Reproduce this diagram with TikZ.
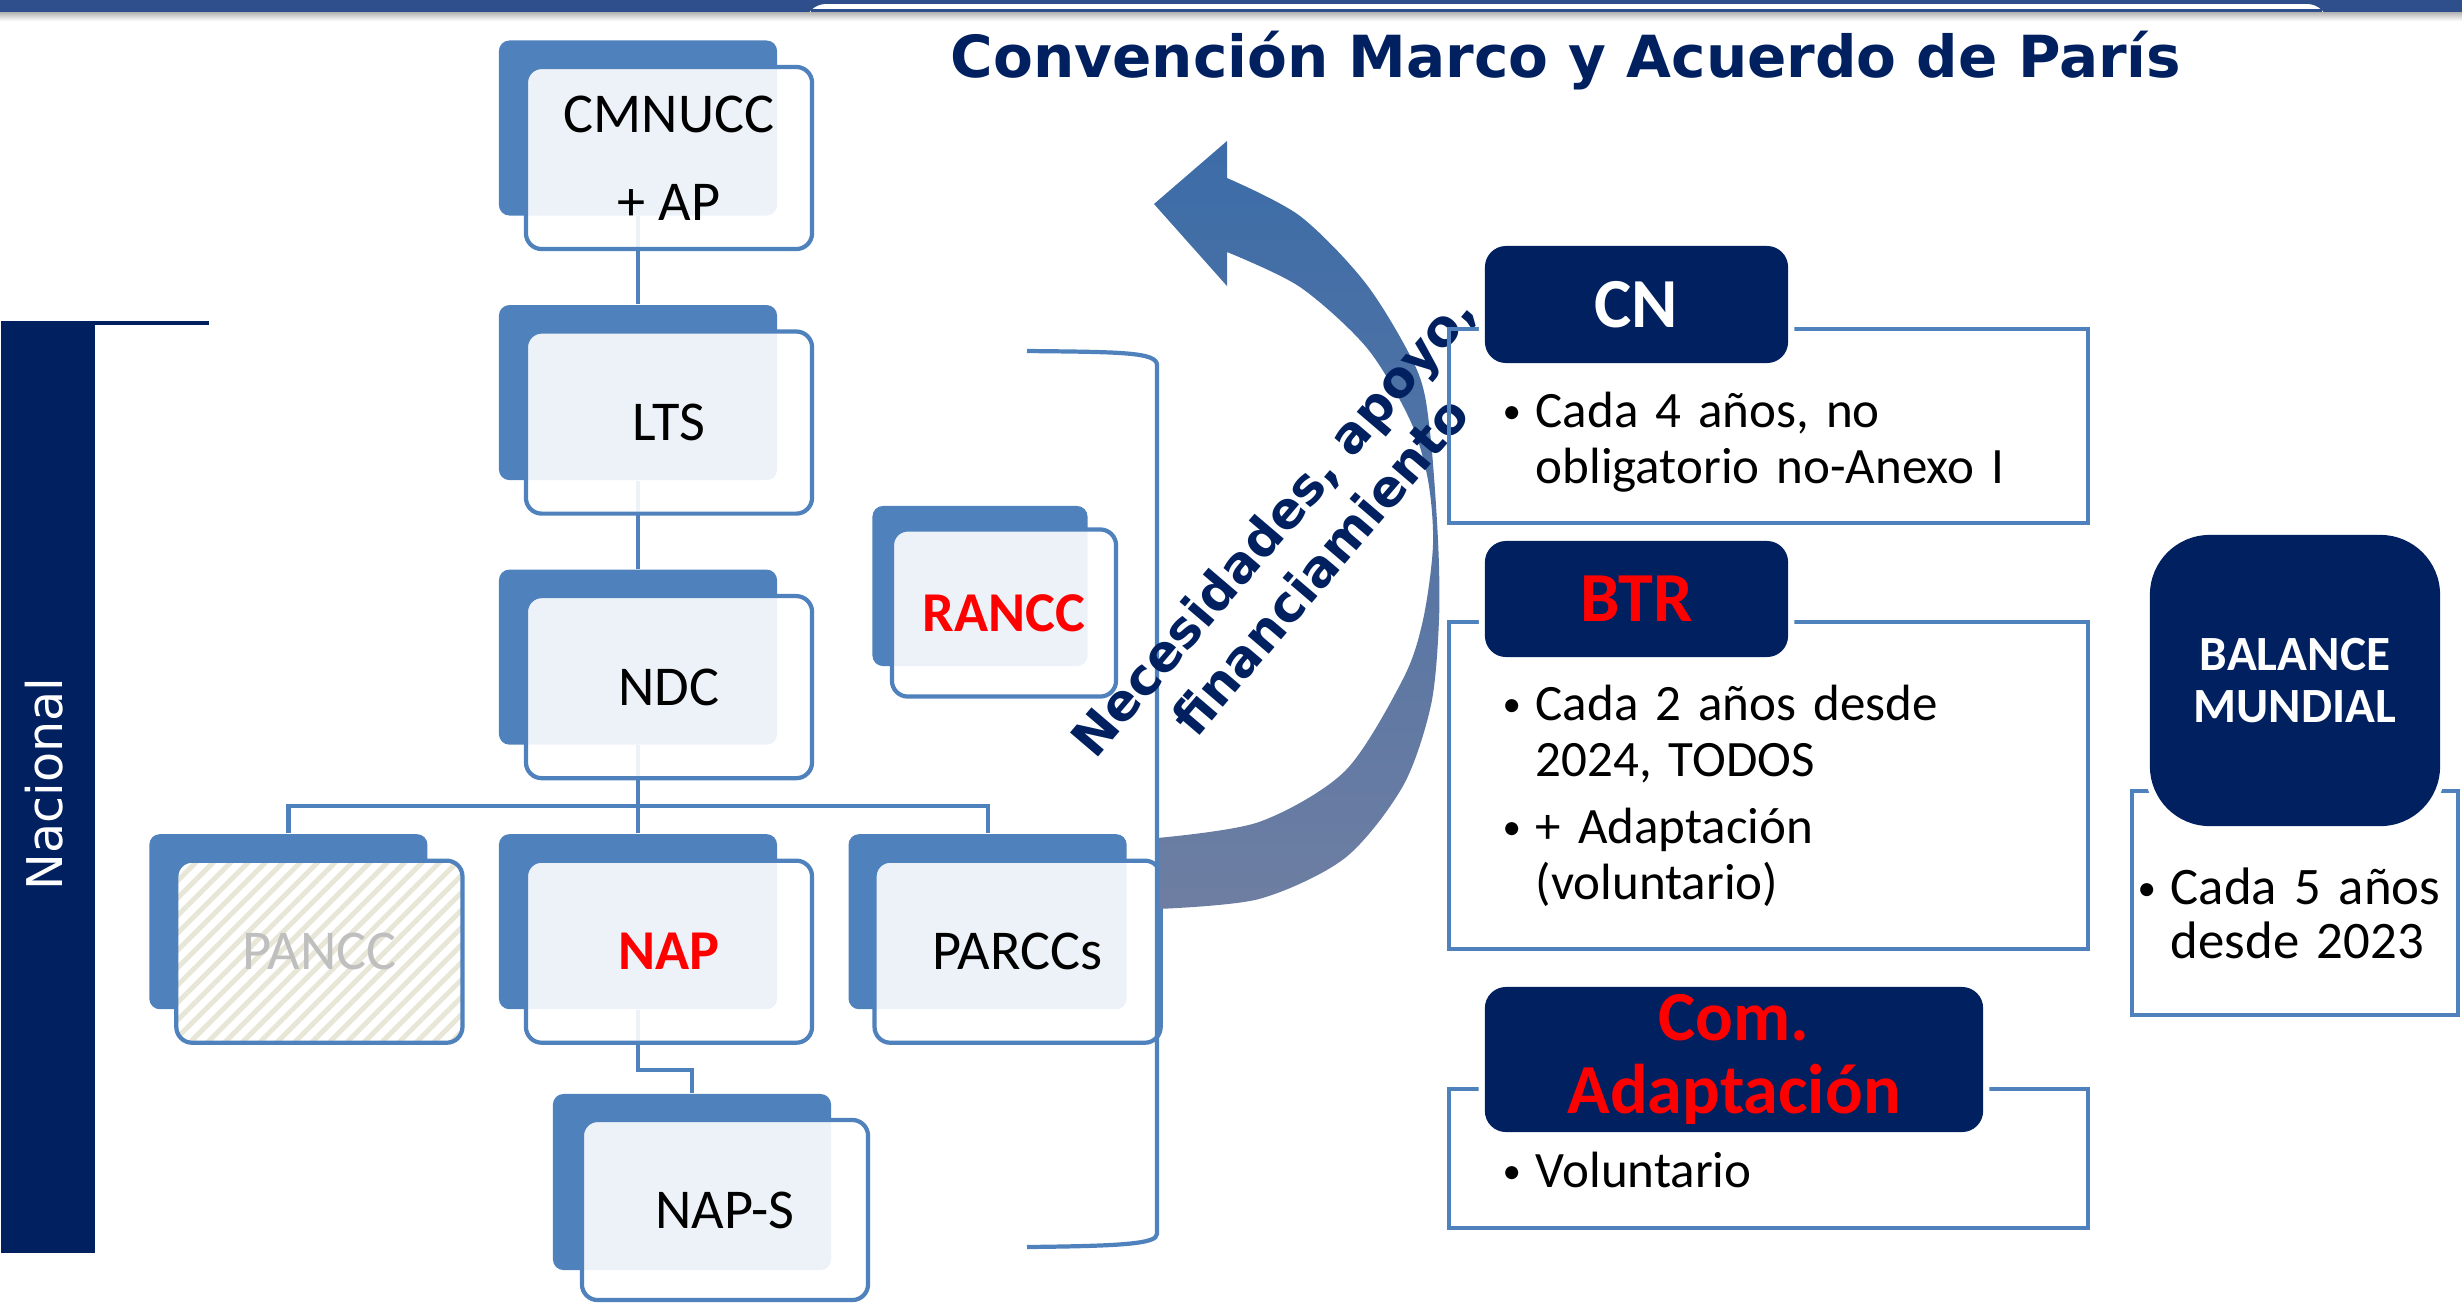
\documentclass[tikz,border=0pt]{standalone}
\usepackage{fontspec}
\setmainfont{Carlito}
\newfontfamily\verdana{DejaVu Sans}
\usetikzlibrary{positioning, patterns.meta, calc}

\definecolor{navy}{RGB}{0,32,96}
\definecolor{boxblue}{RGB}{79,129,189}
\definecolor{barblue}{RGB}{46,78,140}
\definecolor{hatch}{RGB}{232,230,214}
\definecolor{arrowtop}{RGB}{60,108,167}
\definecolor{arrowbot}{RGB}{110,126,162}

\newcommand{\bitem}[1]{\noindent\hangindent=0.33cm\hangafter=1\makebox[0.33cm][l]{\raisebox{1.1pt}{\fontsize{10.5}{10.5}\selectfont\textbullet}}#1\par}

\begin{document}
\begin{tikzpicture}[
    x=0.01cm, y=-0.01cm,
    node distance=0.88cm,
    backbox/.style={rectangle, fill=boxblue, rounded corners=3pt, minimum width=2.78cm, minimum height=1.75cm, inner sep=0},
    frontbox/.style={rectangle, draw=boxblue, line width=1.2pt, fill=white, fill opacity=0.9, text opacity=1, rounded corners=4.5pt, minimum width=2.86cm, minimum height=1.82cm, font=\fontsize{16}{19}\selectfont, align=center},
    link/.style={draw=boxblue, line width=1.2pt},
    head/.style={rectangle, fill=navy, rounded corners=6pt, preaction={draw=white, line width=3.5pt}, text=white, font=\bfseries\fontsize{20}{21}\selectfont, align=center, inner sep=0},
    panel/.style={rectangle, draw=boxblue, line width=1.3pt, inner sep=0},
    bullets/.style={anchor=base west, inner sep=0, align=left, text width=5.6cm, font=\fontsize{14.5}{16}\selectfont}
]
\useasboundingbox (0,0) rectangle (2462,1302);

% Top band and title
\fill[barblue] (0,0) rectangle (2462,12);
\fill[white, rounded corners=6pt] (805,4) rectangle (2328,60);
\fill[barblue] (811,9) rectangle (2322,12);
\shade[top color=black!30, bottom color=white] (0,12) rectangle (2462,21);
\node[anchor=base, text=navy, font=\verdana\bfseries\fontsize{16.5}{20}\selectfont] (title) at (1566,77) {Convención Marco y Acuerdo de París};

% Nacional
\node[fill=navy, anchor=north west, minimum width=0.94cm, minimum height=9.32cm, inner sep=0] (nacbar) at (0,320) {};
\draw[navy, line width=1.1pt] ([shift={(0,3)}]nacbar.north east) -- ++(114,0);
\node[rotate=90, text=white, font=\verdana\fontsize{14}{17}\selectfont] (nacional) at (44,784) {Nacional};

% Back boxes
\node[backbox] (cmnucc-b) at (638,128) {};
\node[backbox, below=of cmnucc-b] (lts-b) {};
\node[backbox, below=of lts-b] (ndc-b) {};
\node[backbox, below=of ndc-b] (nap-b) {};
\node[backbox, left=0.7cm of nap-b] (pancc-b) {};
\node[backbox, right=0.7cm of nap-b] (parccs-b) {};
\node[backbox, minimum height=1.76cm] (naps-b) at (692,1182) {};
\node[backbox, minimum width=2.15cm, minimum height=1.6cm] (rancc-b) at (980,586) {};

% Connectors
\draw[link] (cmnucc-b) -- (lts-b);
\draw[link] (lts-b) -- (ndc-b);
\draw[link] (ndc-b.south) -- ++(0,61) coordinate (split) -| (pancc-b.north);
\draw[link] (split) -| (parccs-b.north);
\draw[link] (split) -- (nap-b);
\draw[link] (nap-b.south) -- ++(0,60) -| (naps-b.north);

% Front boxes
\node[frontbox, font=\fontsize{16}{25}\selectfont] (cmnucc) at ([shift={(31,30)}]cmnucc-b) {CMNUCC\\+ AP};
\node[frontbox] (lts) at ([shift={(31,30)}]lts-b) {LTS};
\node[frontbox] (ndc) at ([shift={(31,30)}]ndc-b) {NDC};
\node[frontbox, fill opacity=1, preaction={fill=white}, pattern={Lines[angle=45, distance=3.5pt, line width=1.4pt]}, pattern color=hatch, text=black!25] (pancc) at ([shift={(31,30)}]pancc-b) {PANCC};
\node[frontbox, text=red, font=\bfseries\fontsize{16}{19}\selectfont] (nap) at ([shift={(31,30)}]nap-b) {NAP};
\node[frontbox] (parccs) at ([shift={(30,30)}]parccs-b) {PARCCs};
\node[frontbox, minimum height=1.8cm] (naps) at ([shift={(33,28)}]naps-b) {NAP-S};
\node[frontbox, minimum width=2.24cm, minimum height=1.67cm, text=red, font=\bfseries\fontsize{16}{19}\selectfont] (rancc) at ([shift={(24,27)}]rancc-b) {RANCC};

% Curved arrow
\shade[top color=arrowtop, bottom color=arrowbot]
  plot[smooth] coordinates {(1157,909) (1259,899) (1345,858) (1403,786) (1431,705) (1439,620) (1438,540) (1430,432) (1417,370) (1367,285) (1300,216) (1227,178)}
  -- (1227,141) -- (1154,204) -- (1227,286)
  -- plot[smooth] coordinates {(1227,252) (1300,287) (1367,348) (1410,420) (1428,480) (1433,545) (1423,620) (1403,679) (1345,771) (1259,822) (1157,838)}
  -- cycle;

% Bracket
\draw[link] (1027,351) .. controls (1120,352) and (1157,352) .. (1157,365) -- (1157,1234) .. controls (1157,1244) and (1120,1246) .. (1027,1247);

\node[rotate=49.5, align=center, text=navy, font=\verdana\bfseries\fontsize{14.4}{17.8}\selectfont] (needs) at (1296,545) {Necesidades, apoyo,\\financiamiento};

% CN
\node[panel, minimum width=6.39cm, minimum height=1.94cm] (cn-panel) at (1768.5,426) {};
\node[head, minimum width=3.03cm, minimum height=1.17cm] (cn) at (1636.5,304.5) {CN};
\node[bullets] (cn-text) at (1502,427) {\bitem{Cada 4 años, no\newline obligatorio no-Anexo I}};

% BTR
\node[panel, minimum width=6.39cm, minimum height=3.27cm] (btr-panel) at (1768.5,785.5) {};
\node[head, minimum width=3.03cm, minimum height=1.16cm, text=red] (btr) at (1636.5,599) {BTR};
\node[bullets] (btr-text) at (1502,720) {\bitem{Cada 2 años desde\newline 2024, TODOS}\vspace{3pt}\bitem{+ Adaptación\newline (voluntario)}};

% Com. Adaptacion
\node[panel, minimum width=6.39cm, minimum height=1.39cm] (com-panel) at (1768.5,1158.5) {};
\node[head, minimum width=4.98cm, minimum height=1.45cm, text=red] (com) at (1734,1059.5) {Com.\\Adaptación};
\node[bullets] (com-text) at (1502,1187) {\bitem{Voluntario}};

% Balance mundial
\node[panel, minimum width=3.26cm, minimum height=2.24cm] (bal-panel) at (2295,903) {};
\node[head, rounded corners=17pt, minimum width=2.9cm, minimum height=2.91cm, font=\bfseries\fontsize{14}{15}\selectfont] (balance) at (2295,680.5) {BALANCE\\MUNDIAL};
\node[bullets, text width=3.3cm, font=\fontsize{15}{15.6}\selectfont] (bal-text) at (2137,904) {\bitem{Cada 5 años\newline desde 2023}};

\end{tikzpicture}
\end{document}
